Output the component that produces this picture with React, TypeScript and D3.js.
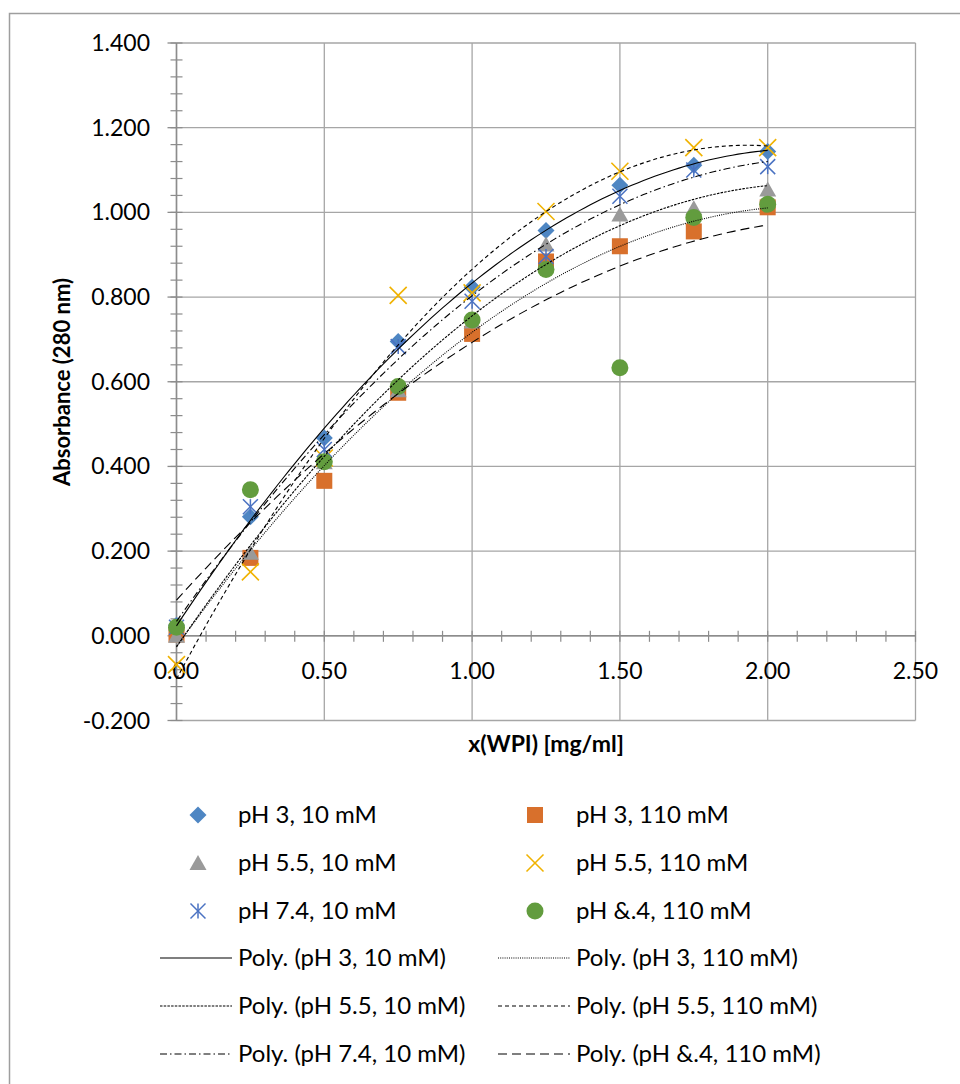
import React from "react";
import * as d3 from "d3";

const xValues = [0, 0.25, 0.5, 0.75, 1.0, 1.25, 1.5, 1.75, 2.0];
const pH3_10 = [0.025, 0.281, 0.467, 0.695, 0.823, 0.957, 1.064, 1.111, 1.144];
const pH3_110 = [0.003, 0.184, 0.366, 0.574, 0.713, 0.884, 0.92, 0.955, 1.012];
const pH55_10 = [0.0, 0.196, 0.41, 0.58, 0.742, 0.924, 0.995, 1.01, 1.054];
const pH55_110 = [-0.068, 0.151, 0.42, 0.804, 0.81, 1.002, 1.097, 1.153, 1.153];
const pH74_10 = [0.02, 0.305, 0.44, 0.683, 0.79, 0.896, 1.038, 1.1, 1.108];
const pH74_110 = [0.02, 0.345, 0.411, 0.589, 0.746, 0.865, 0.633, 0.988, 1.019];

const seriesNames = [
  "pH 3, 10 mM",
  "pH 3, 110 mM",
  "pH 5.5, 10 mM",
  "pH 5.5, 110 mM",
  "pH 7.4, 10 mM",
  "pH &.4, 110 mM",
];
const seriesValues = [pH3_10, pH3_110, pH55_10, pH55_110, pH74_10, pH74_110];
const seriesColors = ["#4E86C3", "#D8702C", "#9A9A9A", "#F0B200", "#4A72C2", "#629C3E"];
const seriesMarkers = ["diamond", "square", "triangle", "x", "star", "circle"];
const trendDash = ["", "1,1.2", "2.5,1.2", "4,3", "7,3,1.5,3", "9,5"];

const yTicks = [-0.2, 0, 0.2, 0.4, 0.6, 0.8, 1.0, 1.2, 1.4];
const xTicks = [0, 0.5, 1.0, 1.5, 2.0, 2.5];

const FONT = "Lato, 'Open Sans', sans-serif";

function polyFit2(xs: number[], ys: number[]): [number, number, number] {
  // least-squares y = a + b x + c x^2
  let n = xs.length, s1 = 0, s2 = 0, s3 = 0, s4 = 0, t0 = 0, t1 = 0, t2 = 0;
  for (let i = 0; i < n; i++) {
    const x = xs[i], y = ys[i];
    s1 += x; s2 += x * x; s3 += x * x * x; s4 += x * x * x * x;
    t0 += y; t1 += x * y; t2 += x * x * y;
  }
  const M = [
    [n, s1, s2, t0],
    [s1, s2, s3, t1],
    [s2, s3, s4, t2],
  ];
  for (let i = 0; i < 3; i++) {
    for (let k = i + 1; k < 3; k++) {
      const f = M[k][i] / M[i][i];
      for (let j = i; j < 4; j++) M[k][j] -= f * M[i][j];
    }
  }
  const r = [0, 0, 0];
  for (let i = 2; i >= 0; i--) {
    let s = M[i][3];
    for (let j = i + 1; j < 3; j++) s -= M[i][j] * r[j];
    r[i] = s / M[i][i];
  }
  return [r[0], r[1], r[2]];
}

function Marker({ type, cx, cy, color }: { type: string; cx: number; cy: number; color: string }) {
  switch (type) {
    case "diamond": {
      const r = 8.5;
      return <path d={`M${cx},${cy - r}L${cx + r},${cy}L${cx},${cy + r}L${cx - r},${cy}Z`} fill={color} />;
    }
    case "square": {
      const s = 16;
      return <rect x={cx - s / 2} y={cy - s / 2} width={s} height={s} fill={color} />;
    }
    case "triangle": {
      const w = 8.5;
      return <path d={`M${cx},${cy - 8}L${cx + w},${cy + 7}L${cx - w},${cy + 7}Z`} fill={color} />;
    }
    case "x": {
      const r = 8.5;
      return (
        <g stroke={color} strokeWidth={1.6}>
          <line x1={cx - r} y1={cy - r} x2={cx + r} y2={cy + r} />
          <line x1={cx - r} y1={cy + r} x2={cx + r} y2={cy - r} />
        </g>
      );
    }
    case "star": {
      const r = 7.5;
      return (
        <g stroke={color} strokeWidth={1.5}>
          <line x1={cx - r} y1={cy - r} x2={cx + r} y2={cy + r} />
          <line x1={cx - r} y1={cy + r} x2={cx + r} y2={cy - r} />
          <line x1={cx} y1={cy - r} x2={cx} y2={cy + r} />
        </g>
      );
    }
    default:
      return <circle cx={cx} cy={cy} r={8.5} fill={color} />;
  }
}

export default function App() {
  const W = 960, H = 1084;
  const left = 176.5, right = 915.5, top = 43, bottom = 720.5;
  const x = d3.scaleLinear().domain([0, 2.5]).range([left, right]);
  const y = d3.scaleLinear().domain([-0.2, 1.4]).range([bottom, top]);
  const gridColor = "#A6A6A6";
  const axisColor = "#8C8C8C";

  const yMinor = d3.range(-0.2, 1.4001, 0.04);
  const xMinor = d3.range(0, 2.5001, 0.1);

  const curveX = d3.range(0, 2.0001, 0.02);
  const line = d3
    .line<[number, number]>()
    .x((d) => x(d[0]))
    .y((d) => y(d[1]))
    .curve(d3.curveLinear);

  const fits = seriesValues.map((vals) => polyFit2(xValues, vals));

  const legendMarkerX = [198, 535];
  const legendTextX = [238, 576];
  const legendLineX = [[160, 232], [498, 570]];
  const rowY = [815, 863, 911, 958, 1006, 1054];
  const legendFont = 24;

  return (
    <svg
      width={W}
      height={H}
      style={{ position: "absolute", left: 0, top: 0, background: "#fff" }}
      fontFamily={FONT}
    >
      <rect x={0} y={0} width={W} height={H} fill="#fff" />
      <rect x={9.5} y={13.5} width={W + 20} height={H + 20} fill="none" stroke="#9E9E9E" strokeWidth={1.5} />

      {/* gridlines */}
      {xTicks.map((t) => (
        <line key={"gx" + t} x1={x(t)} x2={x(t)} y1={top} y2={bottom} stroke={gridColor} strokeWidth={1.3} />
      ))}
      {yTicks.map((t) => (
        <line key={"gy" + t} x1={left} x2={right} y1={y(t)} y2={y(t)} stroke={gridColor} strokeWidth={1.3} />
      ))}

      {/* axes */}
      <line x1={x(0)} x2={x(0)} y1={top} y2={bottom} stroke={axisColor} strokeWidth={1.5} />
      <line x1={left} x2={right} y1={y(0)} y2={y(0)} stroke={axisColor} strokeWidth={1.5} />
      {yMinor.map((t, i) => (
        <line key={"ym" + i} x1={x(0) - 6} x2={x(0) + 6} y1={y(t)} y2={y(t)} stroke={axisColor} strokeWidth={1.2} />
      ))}
      {yTicks.map((t) => (
        <line key={"yM" + t} x1={x(0) - 9} x2={x(0)} y1={y(t)} y2={y(t)} stroke={axisColor} strokeWidth={1.3} />
      ))}
      {xMinor.map((t, i) => (
        <line key={"xm" + i} x1={x(t)} x2={x(t)} y1={y(0) - 5} y2={y(0) + 6} stroke={axisColor} strokeWidth={1.2} />
      ))}

      {/* tick labels */}
      {yTicks.map((t) => (
        <text key={"yl" + t} x={150} y={y(t)} dy="0.35em" textAnchor="end" fontSize={23} fill="#000">
          {d3.format(".3f")(t).replace("−", "-")}
        </text>
      ))}
      {xTicks.map((t) => (
        <text key={"xl" + t} x={x(t)} y={y(0) + 35} dy="0.35em" textAnchor="middle" fontSize={23} fill="#000">
          {d3.format(".2f")(t)}
        </text>
      ))}

      {/* axis titles */}
      <text x={546} y={744} dy="0.35em" textAnchor="middle" fontSize={23} fontWeight="bold" fill="#000">
        x(WPI) [mg/ml]
      </text>
      <text
        transform={`translate(62,382) rotate(-90)`}
        dy="0.35em"
        textAnchor="middle"
        fontSize={22}
        fontWeight="bold"
        fill="#000"
      >
        Absorbance (280 nm)
      </text>

      {/* markers */}
      {seriesValues.map((vals, si) => (
        <g key={"s" + si}>
          {vals.map((v, i) => (
            <Marker key={i} type={seriesMarkers[si]} cx={x(xValues[i])} cy={y(v)} color={seriesColors[si]} />
          ))}
        </g>
      ))}

      {/* trendlines */}
      {fits.map((c, si) => (
        <path
          key={"t" + si}
          d={line(curveX.map((xx) => [xx, c[0] + c[1] * xx + c[2] * xx * xx]))!}
          fill="none"
          stroke="#000"
          strokeWidth={1.1}
          strokeDasharray={trendDash[si] || undefined}
        />
      ))}

      {/* legend */}
      {seriesNames.map((name, si) => {
        const col = si % 2;
        const row = Math.floor(si / 2);
        return (
          <g key={"lm" + si}>
            <Marker type={seriesMarkers[si]} cx={legendMarkerX[col]} cy={rowY[row]} color={seriesColors[si]} />
            <text x={legendTextX[col]} y={rowY[row]} dy="0.35em" fontSize={legendFont} fill="#000">
              {name}
            </text>
          </g>
        );
      })}
      {seriesNames.map((name, si) => {
        const col = si % 2;
        const row = 3 + Math.floor(si / 2);
        return (
          <g key={"ll" + si}>
            <line
              x1={legendLineX[col][0]}
              x2={legendLineX[col][1]}
              y1={rowY[row]}
              y2={rowY[row]}
              stroke="#000"
              strokeWidth={1.1}
              strokeDasharray={trendDash[si] || undefined}
            />
            <text x={legendTextX[col]} y={rowY[row]} dy="0.35em" fontSize={legendFont} fill="#000">
              {`Poly. (${name})`}
            </text>
          </g>
        );
      })}
    </svg>
  );
}
